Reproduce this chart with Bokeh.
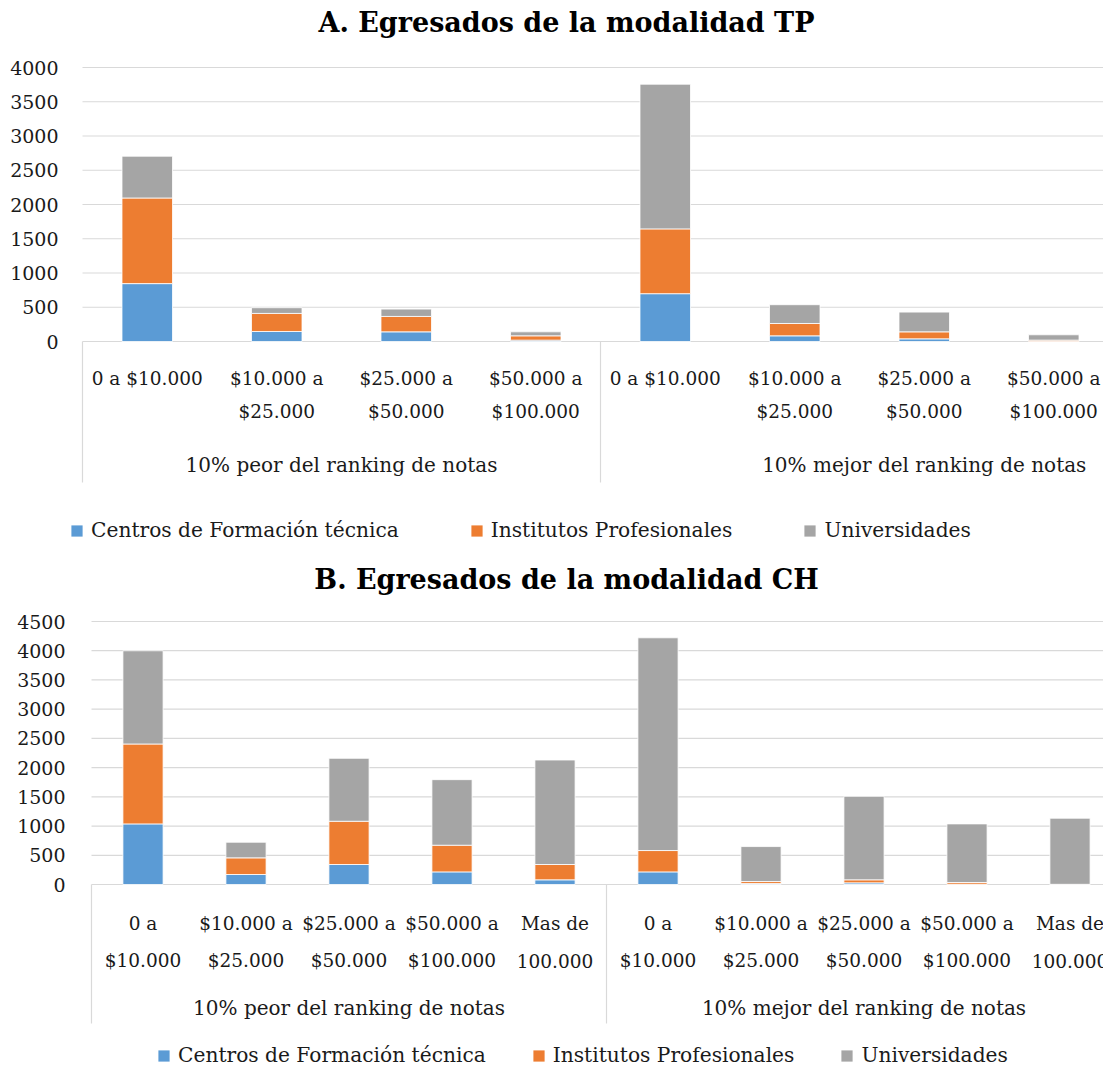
from bokeh.plotting import figure
from bokeh.models import ColumnDataSource, FixedTicker, Range1d, Legend, LegendItem
from bokeh.layouts import column
from bokeh.embed import file_html
from bokeh.resources import INLINE
from bokeh.core.properties import value

# ---------------- data ----------------
series_names = ["Centros de Formación técnica", "Institutos Profesionales", "Universidades"]
series_colors = ["#5B9BD5", "#ED7D31", "#A5A5A5"]

a_title = "A. Egresados de la modalidad TP"
a_groups = ["10% peor del ranking de notas", "10% mejor del ranking de notas"]
a_categories = [
    ["0 a $10.000", "$10.000 a\n$25.000", "$25.000 a\n$50.000", "$50.000 a\n$100.000"],
    ["0 a $10.000", "$10.000 a\n$25.000", "$25.000 a\n$50.000", "$50.000 a\n$100.000", "Mas de\n100.000"],
]
a_cft = [845, 146, 141, 20, 698, 83, 39, 5, 0]
a_ip = [1250, 264, 225, 63, 946, 180, 102, 15, 0]
a_uni = [610, 83, 107, 58, 2112, 274, 288, 78, 0]
a_ticks = [0, 500, 1000, 1500, 2000, 2500, 3000, 3500, 4000]

b_title = "B. Egresados de la modalidad CH"
b_groups = ["10% peor del ranking de notas", "10% mejor del ranking de notas"]
b_categories = [
    ["0 a\n$10.000", "$10.000 a\n$25.000", "$25.000 a\n$50.000", "$50.000 a\n$100.000", "Mas de\n100.000"],
    ["0 a\n$10.000", "$10.000 a\n$25.000", "$25.000 a\n$50.000", "$50.000 a\n$100.000", "Mas de\n100.000"],
]
b_cft = [1037, 171, 342, 216, 80, 216, 18, 28, 5, 0]
b_ip = [1367, 285, 740, 456, 262, 365, 33, 52, 29, 3]
b_uni = [1595, 267, 1077, 1122, 1788, 3640, 598, 1429, 1003, 1131]
b_ticks = [0, 500, 1000, 1500, 2000, 2500, 3000, 3500, 4000, 4500]

FONT = "DejaVu Serif"
TXT = "#1a1a1a"
GRID = "#d9d9d9"
W = 1103
CANVAS_LEFT = 68


def make_panel(title, groups, categories, cft, ip, uni, ticks, g):
    H = g["H"]
    k = ticks[-1] / (g["y0"] - g["ytop"])          # data units per px
    cat_px = g["cat_px"]
    fl = g["frame_left"]

    def ypx(px):
        return (g["y0"] - px) * k

    def xpx(px):
        return (px - fl) / cat_px

    x_end = xpx(W)
    p = figure(width=W, height=H, output_backend="svg", toolbar_location=None,
               x_axis_location=None, title=None,
               x_range=Range1d(xpx(CANVAS_LEFT), x_end),
               y_range=Range1d(ypx(H), ypx(0)),
               min_border_left=CANVAS_LEFT, min_border_right=0,
               min_border_top=0, min_border_bottom=0)
    p.outline_line_color = None
    p.xgrid.visible = False
    p.ygrid.visible = False
    ax = p.yaxis[0]
    ax.ticker = FixedTicker(ticks=ticks)
    ax.axis_line_color = None
    ax.major_tick_line_color = None
    ax.minor_tick_line_color = None
    ax.major_tick_out = 0
    ax.major_tick_in = 0
    ax.major_label_standoff = CANVAS_LEFT - g["label_right"]
    ax.major_label_text_font = FONT
    ax.major_label_text_font_size = "19px"
    ax.major_label_text_color = TXT

    # horizontal gridlines (start at the category axis)
    p.segment(x0=[0] * len(ticks), y0=ticks, x1=[x_end] * len(ticks), y1=ticks,
              line_color=GRID, line_width=1.2)

    flat = [c for grp in categories for c in grp]
    xs = [i + 0.5 for i in range(len(flat))]
    src = ColumnDataSource(dict(x=xs, cft=cft, ip=ip, uni=uni))
    rs = p.vbar_stack(["cft", "ip", "uni"], x="x", width=0.39, color=series_colors,
                      line_color="white", line_width=0.8, source=src)

    # group separators
    bounds = [0]
    for grp in categories:
        bounds.append(bounds[-1] + len(grp))
    p.segment(x0=bounds, y0=[0] * len(bounds), x1=bounds, y1=[ypx(g["sep_end"])] * len(bounds),
              line_color=GRID, line_width=1.2)

    # category labels (two lines)
    l1 = [c.split("\n")[0] for c in flat]
    l2 = [c.split("\n")[1] if "\n" in c else "" for c in flat]
    p.text(x=xs, y=[ypx(g["lab1"])] * len(xs), text=l1, text_font=value(FONT),
           text_font_size="18.5px", text_color=TXT, text_align="center", text_baseline="middle")
    p.text(x=xs, y=[ypx(g["lab2"])] * len(xs), text=l2, text_font=value(FONT),
           text_font_size="18.5px", text_color=TXT, text_align="center", text_baseline="middle")
    gx = [(bounds[i] + bounds[i + 1]) / 2 for i in range(len(groups))]
    p.text(x=gx, y=[ypx(g["group"])] * len(gx), text=groups, text_font=value(FONT),
           text_font_size="20px", text_color=TXT, text_align="center", text_baseline="middle")

    # title
    p.text(x=[xpx(g["title_x"])], y=[ypx(g["title_y"])], text=[title], text_font=value(FONT),
           text_font_style="bold", text_font_size="27px", text_color="#000000",
           text_align="center", text_baseline="middle")

    legend = Legend(items=[LegendItem(label=n, renderers=[r]) for n, r in zip(series_names, rs)],
                    orientation="horizontal", location=(g["leg_x"], g["leg_y"]),
                    padding=0, margin=0, spacing=g["leg_spacing"],
                    glyph_width=15, glyph_height=15, label_standoff=7,
                    label_text_font=FONT, label_text_font_size="20.2px", label_text_color=TXT,
                    border_line_color=None, background_fill_alpha=0)
    p.add_layout(legend)
    return p


ga = dict(H=556, frame_left=82, cat_px=129.5, y0=341, ytop=67, label_right=58,
          lab1=378, lab2=411, group=464, sep_end=482, title_x=566, title_y=22,
          leg_x=1, leg_y=14, leg_spacing=70)
gb = dict(H=513, frame_left=91, cat_px=103, y0=328, ytop=65, label_right=65,
          lab1=367, lab2=404, group=451, sep_end=467, title_x=566, title_y=23,
          leg_x=88, leg_y=2, leg_spacing=45)

pa = make_panel(a_title, a_groups, a_categories, a_cft, a_ip, a_uni, a_ticks, ga)
pb = make_panel(b_title, b_groups, b_categories, b_cft, b_ip, b_uni, b_ticks, gb)

layout = column(pa, pb, spacing=0)
open("out.html", "w").write(file_html(layout, INLINE))
